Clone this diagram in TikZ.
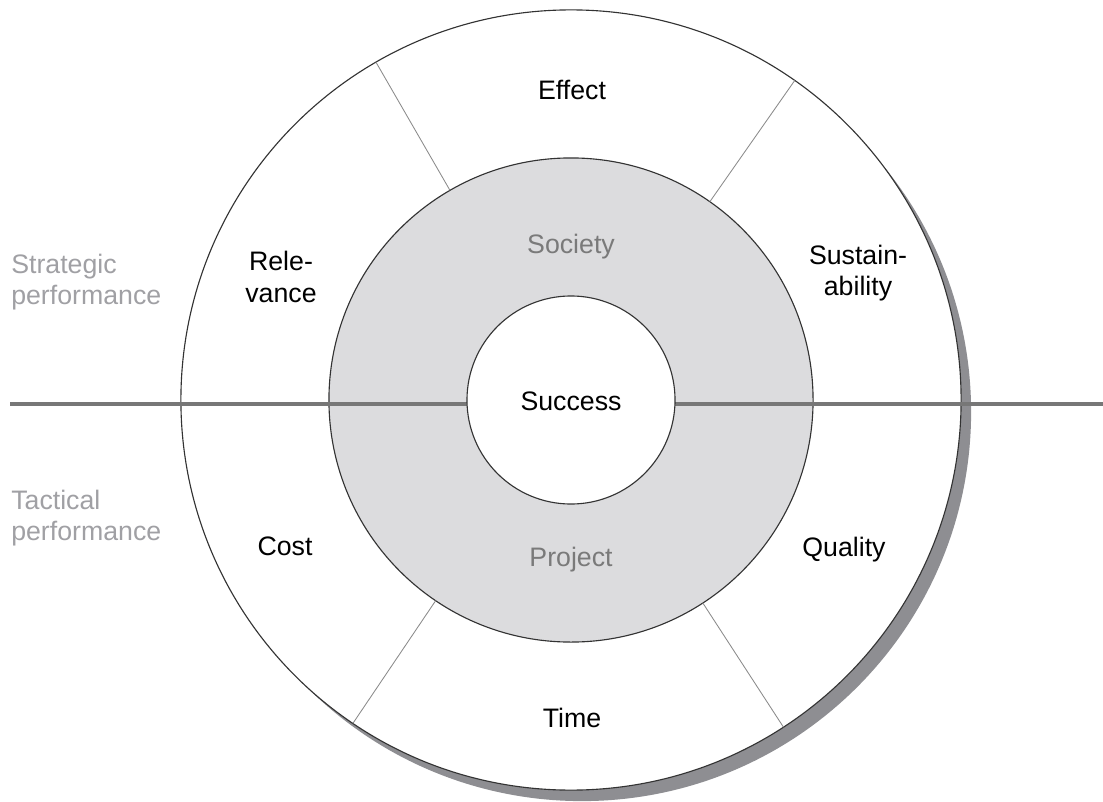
\documentclass[tikz,border=0pt]{standalone}
\usepackage{fontspec}
\setmainfont{Liberation Sans}
\definecolor{shadowgray}{HTML}{8E8E92}
\definecolor{midfill}{HTML}{DCDCDE}
\definecolor{ringline}{HTML}{333333}
\definecolor{axisline}{HTML}{777777}
\definecolor{spokeline}{HTML}{8A8A8A}
\definecolor{midtext}{HTML}{7A7A7A}
\definecolor{sidetext}{HTML}{A0A0A4}
\begin{document}
\begin{tikzpicture}[x=0.025cm,y=-0.025cm,
  ring/.style={circle, draw=ringline, line width=0.8pt, inner sep=0pt, outer sep=0pt},
  spoke/.style={draw=spokeline, line width=0.6pt},
  axis/.style={draw=axisline, line width=2.3pt},
  lbl/.style={font=\fontsize{19}{22.5}\selectfont, text=black, align=center, inner sep=0pt},
  midlbl/.style={lbl, text=midtext},
  sidelbl/.style={font=\fontsize{19}{22.5}\selectfont, text=sidetext, align=left, anchor=west, inner sep=0pt}]
\useasboundingbox (0,0) rectangle (1103,801);
\coordinate (c) at (571,400);
\coordinate (cs) at (582,412);
% shadow
\node[circle, fill=shadowgray, minimum size=19.45cm, inner sep=0pt] (shadow) at (cs) {};
% rings
\node[ring, fill=white, minimum size=19.5cm] (outer) at (c) {};
\node[ring, fill=midfill, minimum size=12.1cm] (mid) at (c) {};
% horizontal axis
\coordinate (axL) at (10,404);
\coordinate (axR) at (1103,404);
\draw[axis] (axL) -- (axR);
\node[ring, fill=white, minimum size=5.2cm, font=\fontsize{19}{22.5}\selectfont] (inner) at (c) {};
% spokes
\draw[spoke] (mid.120) -- (outer.120);
\draw[spoke] (mid.55.3) -- (outer.55.3);
\draw[spoke] (mid.236.8) -- (outer.236.8);
\draw[spoke] (mid.-57) -- (outer.-57);
% labels
\node[lbl] (success) at (571,401) {Success};
\node[midlbl] (society) at (571,247) {Society};
\node[midlbl] (project) at (571,560) {Project};
\node[lbl] (effect) at (572,90) {Effect};
\node[lbl] (time) at (572,718) {Time};
\node[lbl] (relevance) at (281,277) {Rele-\\vance};
\node[lbl] (sustain) at (858,273) {Sustain-\\ability};
\node[lbl] (cost) at (285,546) {Cost};
\node[lbl] (quality) at (844,550) {Quality};
\node[sidelbl] (strategic) at (11,282) {Strategic\\performance};
\node[sidelbl] (tactical) at (11,518) {Tactical\\performance};
\end{tikzpicture}
\end{document}
